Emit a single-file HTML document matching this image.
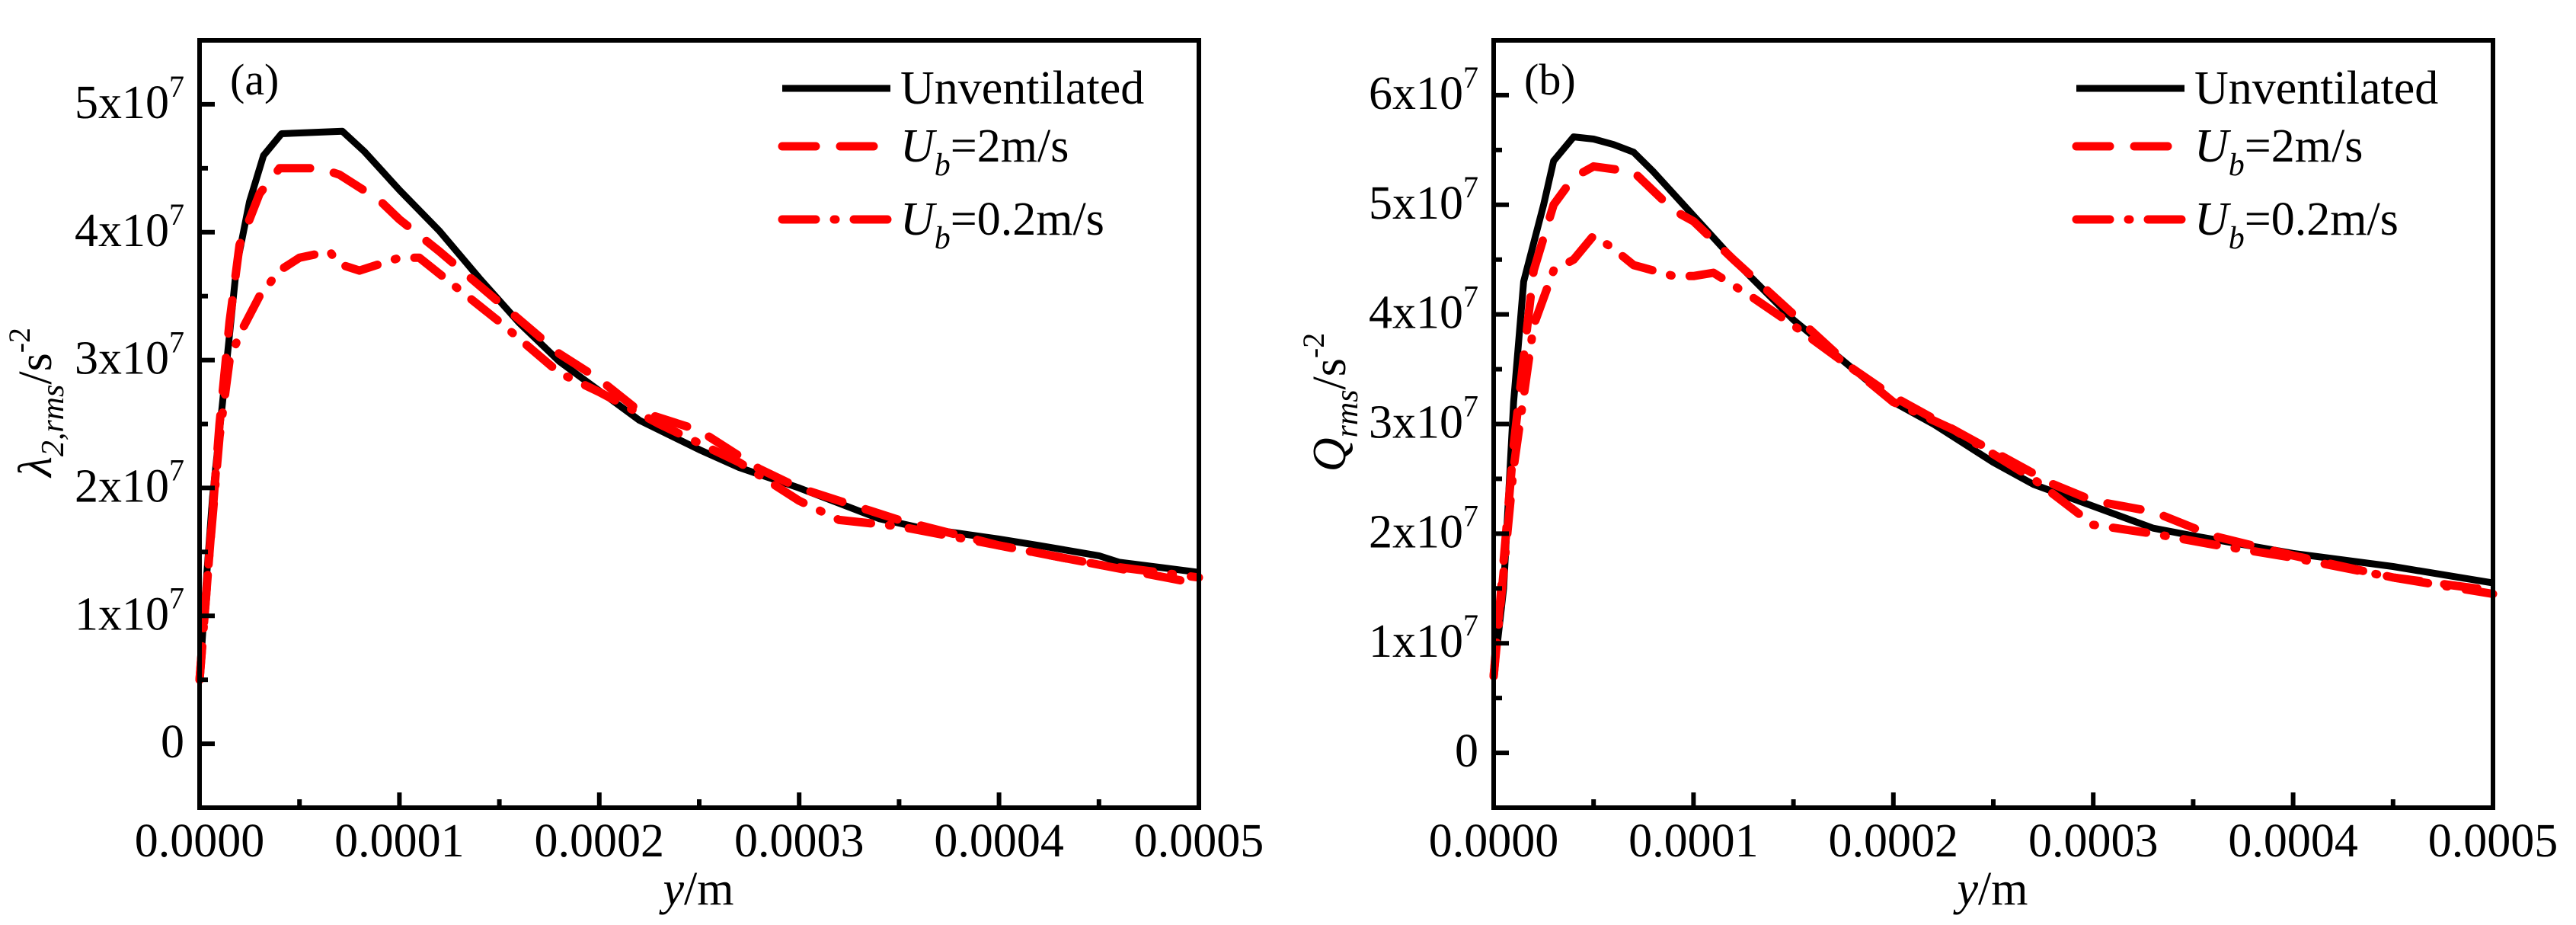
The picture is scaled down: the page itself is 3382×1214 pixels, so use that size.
<!DOCTYPE html>
<html><head><meta charset="utf-8"><style>
html,body{margin:0;padding:0;background:#fff;}
svg{display:block;}
text{font-family:"Liberation Serif","Times New Roman",serif;}
</style></head><body>
<svg id="fig" width="3382" height="1214" viewBox="0 0 3382 1214" xmlns="http://www.w3.org/2000/svg" font-family="Liberation Serif, serif"></svg>
<script>
const xTickValues = [0, 0.0001, 0.0002, 0.0003, 0.0004, 0.0005];
const xTickLabels = ["0.0000","0.0001","0.0002","0.0003","0.0004","0.0005"];
const yTicksA = [0,1,2,3,4,5];
const yTicksB = [0,1,2,3,4,5,6];
// panel (a) lambda_2,rms, values in 1e7
const aUnX = [0,0.000003,0.0000065,0.0000115,0.0000185,0.000025,0.000032,0.000041,0.0000714,0.0000825,0.0001,0.00012,0.00014,0.00016,0.00018,0.0002,0.00022,0.00025,0.00027,0.0003,0.00032,0.00034,0.00036,0.0004,0.00042,0.00045,0.00046,0.0005];
const aUnY = [0.5,1.2,1.93,2.67,3.73,4.24,4.6,4.77,4.79,4.63,4.33,4.01,3.64,3.29,2.99,2.76,2.53,2.3,2.16,2.0,1.88,1.76,1.69,1.6,1.55,1.47,1.42,1.34];
const aU2X = [0,0.000005,0.00001,0.000015,0.00002,0.00003,0.00004,0.00006,0.00007,0.00009,0.0001,0.00012,0.00015,0.00018,0.0002,0.00022,0.00025,0.00028,0.0003,0.00033,0.00035,0.0004,0.00045,0.0005];
const aU2Y = [0.5,1.5,2.5,3.3,3.9,4.3,4.5,4.5,4.45,4.25,4.1,3.85,3.45,3.05,2.85,2.6,2.45,2.15,2.0,1.85,1.75,1.55,1.4,1.25];
const aU02X = [0,0.000005,0.00001,0.000015,0.00002,0.00003,0.00004,0.00005,0.000065,0.00007,0.00008,0.0001,0.00011,0.00013,0.00015,0.00018,0.0002,0.00023,0.00027,0.0003,0.00032,0.00035,0.0004,0.00045,0.0005];
const aU02Y = [0.5,1.5,2.4,3.0,3.2,3.5,3.7,3.8,3.85,3.75,3.7,3.8,3.8,3.55,3.3,2.9,2.75,2.5,2.2,1.9,1.75,1.7,1.55,1.4,1.3];
// panel (b) Q_rms, values in 1e7
const bUnX = [0,0.000005,0.00001,0.000015,0.000025,0.00003,0.00004,0.00005,0.00006,0.00007,0.00008,0.0001,0.00012,0.00015,0.00018,0.0002,0.00022,0.00025,0.00027,0.0003,0.00033,0.00035,0.0004,0.00045,0.0005];
const bUnY = [0.7,1.5,3.2,4.3,5.0,5.4,5.62,5.6,5.55,5.48,5.3,4.9,4.5,3.95,3.5,3.2,3.0,2.65,2.45,2.25,2.05,1.98,1.82,1.7,1.55];
const bU2X = [0,0.00001,0.00002,0.00003,0.00004,0.00005,0.00007,0.00009,0.0001,0.00012,0.00015,0.00018,0.0002,0.00022,0.00025,0.00028,0.0003,0.00033,0.00036,0.0004,0.00045,0.0005];
const bU2Y = [0.7,2.8,4.4,5.0,5.25,5.35,5.3,4.95,4.85,4.5,4.0,3.5,3.25,3.05,2.75,2.45,2.3,2.2,1.98,1.8,1.6,1.48];
const bU02X = [0,0.00001,0.00002,0.00003,0.00004,0.00005,0.00006,0.00007,0.00009,0.0001,0.00011,0.00013,0.00015,0.00018,0.0002,0.00023,0.00027,0.0003,0.00033,0.00036,0.0004,0.00045,0.0005];
const bU02Y = [0.7,2.6,3.9,4.4,4.5,4.72,4.6,4.45,4.35,4.35,4.38,4.15,3.9,3.5,3.2,2.95,2.5,2.08,2.0,1.9,1.78,1.6,1.45];

const NS = "http://www.w3.org/2000/svg";
const svg = document.getElementById('fig');
const FF = '"Liberation Serif", serif';
function mk(tag, attrs, parent){const e=document.createElementNS(NS,tag);for(const k in attrs)e.setAttribute(k,attrs[k]);if(tag==='text')e.style.fontFamily=FF;(parent||svg).appendChild(e);return e;}

function panel(opt){
  const L=opt.left, R=opt.left+1312, T=53, B=1060;
  const g=mk('g',{});
  
  
  const xs=v=>L+(v/0.0005)*(R-L);
  const ys=v=>B-(v-opt.ymin)/(opt.ymax-opt.ymin)*(B-T);
  const series=[[opt.unX,opt.unY,'#000','none',9,'unventilated-line'],[opt.u2X,opt.u2Y,'#ff0000','44 32',11,'ub-2-line'],[opt.u02X,opt.u02Y,'#ff0000','44 24 2 24',11,'ub-0.2-line']];
  series.forEach(s=>{
    const d=s[0].map((x,i)=>(i?'L':'M')+xs(x).toFixed(1)+' '+ys(s[1][i]).toFixed(1)).join(' ');
    const p=mk('path',{d:d,fill:'none',stroke:s[2],'stroke-width':s[4],'stroke-dasharray':s[3],'stroke-linecap':s[3]==='none'?'butt':'round','stroke-linejoin':'round'},g);
    
    
  });
  const box=mk('rect',{x:L,y:T,width:R-L,height:B-T,fill:'none',stroke:'#000','stroke-width':6},g);
  
  
  xTickValues.forEach((v,i)=>{
    mk('line',{x1:xs(v),x2:xs(v),y1:B,y2:B-20,stroke:'#000','stroke-width':6},g);
    if(i<xTickValues.length-1){const m=(v+xTickValues[i+1])/2;mk('line',{x1:xs(m),x2:xs(m),y1:B,y2:B-11,stroke:'#000','stroke-width':6},g);}
    const t=mk('text',{x:xs(v),y:1124,'text-anchor':'middle','font-size':62},g);t.textContent=xTickLabels[i];
    
    
  });
  opt.yticks.forEach((v,i)=>{
    mk('line',{x1:L,x2:L+20,y1:ys(v),y2:ys(v),stroke:'#000','stroke-width':6},g);
    mk('line',{x1:L,x2:L+11,y1:ys(v+0.5),y2:ys(v+0.5),stroke:'#000','stroke-width':6},g);
    if(i===0) mk('line',{x1:L,x2:L+11,y1:ys(-0.5),y2:ys(-0.5),stroke:'#000','stroke-width':6},g);
    const t=mk('text',{x:L-20,y:ys(v)+18,'text-anchor':'end','font-size':62},g);
    
    
    if(v===0) t.textContent='0';
    else t.innerHTML=v+'x10<tspan dy="-28" font-size="40">7</tspan>';
  });
  const xt=mk('text',{x:L+655,y:1187,'text-anchor':'middle','font-size':62},g);
  xt.innerHTML='<tspan font-style="italic">y</tspan>/m';
  
  
  const yt=mk('text',{x:0,y:0,'text-anchor':'middle','font-size':62,transform:'translate('+(L-195)+',528) rotate(-90)'},g);
  yt.innerHTML=opt.ytitle;
  
  
  const pl=mk('text',{x:L+40,y:124,'font-size':58},g);pl.textContent=opt.label;
  
  
  const lx=L+765, tx=L+920;
  const leg=[['#000','none',9,'Unventilated',116],['#ff0000','44 32',11,'U2',192],['#ff0000','44 24 2 24',11,'U02',288]];
  leg.forEach(e=>{
    const gg=mk('g',{},g);
    
    
    mk('line',{x1:lx,x2:lx+142,y1:e[4],y2:e[4],stroke:e[0],'stroke-width':e[2],'stroke-dasharray':e[1],'stroke-linecap':e[1]==='none'?'butt':'round'},gg);
    const t=mk('text',{x:tx,y:e[4]+20,'font-size':62},gg);
    if(e[3]==='Unventilated') t.textContent='Unventilated';
    else t.innerHTML='<tspan font-style="italic">U</tspan><tspan font-style="italic" font-size="42" dy="18">b</tspan><tspan dy="-18">='+(e[3]==='U2'?'2':'0.2')+'m/s</tspan>';
  });
}
panel({name:'panel-a',left:262,ymin:-0.5,ymax:5.5,yticks:yTicksA,label:'(a)',
  unX:aUnX,unY:aUnY,u2X:aU2X,u2Y:aU2Y,u02X:aU02X,u02Y:aU02Y,
  ytitle:'<tspan font-style="italic">λ</tspan><tspan font-style="italic" font-size="42" dy="16">2,rms</tspan><tspan dy="-16">/s</tspan><tspan dy="-28" font-size="40">-2</tspan>'});
panel({name:'panel-b',left:1961,ymin:-0.5,ymax:6.5,yticks:yTicksB,label:'(b)',
  unX:bUnX,unY:bUnY,u2X:bU2X,u2Y:bU2Y,u02X:bU02X,u02Y:bU02Y,
  ytitle:'<tspan font-style="italic">Q</tspan><tspan font-style="italic" font-size="42" dy="16">rms</tspan><tspan dy="-16">/s</tspan><tspan dy="-28" font-size="40">-2</tspan>'});
</script>
</body></html>
